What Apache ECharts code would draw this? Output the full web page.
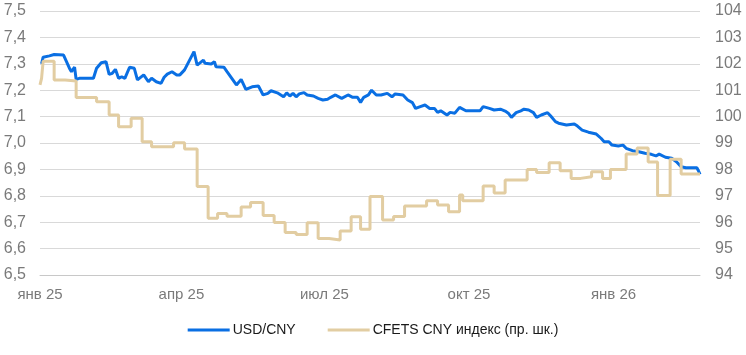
<!DOCTYPE html>
<html>
<head>
<meta charset="utf-8">
<script src="https://cdn.jsdelivr.net/npm/echarts@6/dist/echarts.min.js"></script>
<style>
html,body{margin:0;padding:0;background:#fff;}
#c{width:746px;height:355px;}
</style>
</head>
<body>
<div id="c"></div>
<script>
// X-axis tick labels (quarter starts)
const xTickDates = ['2025-01-01','2025-04-01','2025-07-01','2025-10-01','2026-01-01'];
const xTickLabels = ['янв 25','апр 25','июл 25','окт 25','янв 26'];

// USD/CNY (left axis)
const usdDates = ['2025-01-02','2025-01-03','2025-01-07','2025-01-10','2025-01-16','2025-01-17','2025-01-20','2025-01-21','2025-01-23','2025-01-24','2025-01-26','2025-02-04','2025-02-06','2025-02-09','2025-02-12','2025-02-14','2025-02-16','2025-02-18','2025-02-20','2025-02-22','2025-02-24','2025-02-27','2025-03-02','2025-03-04','2025-03-08','2025-03-11','2025-03-13','2025-03-16','2025-03-19','2025-03-21','2025-03-23','2025-03-26','2025-03-29','2025-03-31','2025-04-03','2025-04-09','2025-04-11','2025-04-15','2025-04-16','2025-04-20','2025-04-22','2025-04-23','2025-04-28','2025-04-30','2025-05-06','2025-05-09','2025-05-12','2025-05-16','2025-05-20','2025-05-23','2025-05-26','2025-05-28','2025-06-01','2025-06-05','2025-06-07','2025-06-09','2025-06-11','2025-06-13','2025-06-15','2025-06-18','2025-06-20','2025-06-24','2025-06-27','2025-06-30','2025-07-03','2025-07-05','2025-07-08','2025-07-12','2025-07-16','2025-07-19','2025-07-22','2025-07-24','2025-07-26','2025-07-29','2025-07-31','2025-08-03','2025-08-06','2025-08-10','2025-08-13','2025-08-15','2025-08-20','2025-08-23','2025-08-26','2025-08-28','2025-08-31','2025-09-03','2025-09-06','2025-09-09','2025-09-11','2025-09-13','2025-09-17','2025-09-19','2025-09-22','2025-09-25','2025-09-29','2025-10-08','2025-10-10','2025-10-14','2025-10-17','2025-10-21','2025-10-24','2025-10-26','2025-10-28','2025-10-31','2025-11-03','2025-11-05','2025-11-08','2025-11-11','2025-11-13','2025-11-16','2025-11-20','2025-11-22','2025-11-25','2025-11-27','2025-12-02','2025-12-03','2025-12-07','2025-12-09','2025-12-12','2025-12-16','2025-12-21','2025-12-24','2025-12-26','2025-12-29','2025-12-31','2026-01-04','2026-01-07','2026-01-09','2026-01-13','2026-01-17','2026-01-21','2026-01-25','2026-01-28','2026-01-30','2026-02-03','2026-02-07','2026-02-10','2026-02-13','2026-02-16','2026-02-23','2026-02-24','2026-02-25'];
const usdValues = [7.300,7.325,7.330,7.335,7.333,7.327,7.280,7.270,7.287,7.241,7.245,7.245,7.283,7.304,7.308,7.260,7.264,7.279,7.245,7.251,7.245,7.287,7.283,7.239,7.258,7.232,7.245,7.232,7.226,7.249,7.261,7.270,7.258,7.258,7.277,7.346,7.295,7.314,7.302,7.299,7.308,7.289,7.287,7.270,7.220,7.241,7.203,7.213,7.216,7.182,7.188,7.198,7.190,7.175,7.190,7.178,7.188,7.175,7.186,7.191,7.182,7.178,7.169,7.163,7.166,7.173,7.182,7.169,7.182,7.173,7.173,7.154,7.173,7.182,7.200,7.182,7.182,7.188,7.175,7.186,7.182,7.163,7.153,7.131,7.138,7.144,7.131,7.131,7.116,7.122,7.106,7.116,7.113,7.135,7.122,7.122,7.138,7.131,7.125,7.128,7.121,7.113,7.097,7.115,7.122,7.128,7.125,7.115,7.097,7.106,7.115,7.102,7.081,7.075,7.068,7.062,7.072,7.064,7.049,7.041,7.034,7.018,7.005,7.005,6.992,6.989,6.992,6.980,6.971,6.967,6.961,6.957,6.951,6.958,6.946,6.942,6.929,6.910,6.906,6.906,6.895,6.881];

// CFETS CNY index (right axis), weekly fixings
const cfetsDates = ['2025-01-01','2025-01-02','2025-01-03','2025-01-10','2025-01-17','2025-01-24','2025-02-06','2025-02-14','2025-02-20','2025-02-28','2025-03-07','2025-03-13','2025-03-27','2025-04-03','2025-04-11','2025-04-18','2025-04-24','2025-04-30','2025-05-09','2025-05-15','2025-05-23','2025-05-30','2025-06-06','2025-06-13','2025-06-20','2025-06-27','2025-07-04','2025-07-11','2025-07-18','2025-07-24','2025-07-30','2025-08-07','2025-08-14','2025-08-21','2025-09-04','2025-09-11','2025-09-18','2025-09-25','2025-09-27','2025-10-10','2025-10-17','2025-10-24','2025-11-07','2025-11-13','2025-11-21','2025-11-28','2025-12-05','2025-12-11','2025-12-18','2025-12-25','2025-12-30','2026-01-09','2026-01-16','2026-01-23','2026-01-29','2026-02-06','2026-02-13','2026-02-25'];
const cfetsValues = [101.2,101.45,102.1,101.39,101.35,100.72,100.56,100.06,99.62,99.94,99.05,98.86,99.01,98.77,97.35,96.15,96.33,96.23,96.58,96.75,96.25,95.99,95.61,95.53,95.98,95.38,95.33,95.67,96.21,95.73,96.97,96.08,96.22,96.61,96.81,96.65,96.40,97.03,96.81,97.37,97.11,97.60,98.00,97.88,98.25,97.95,97.66,97.72,97.91,97.66,98.00,98.58,98.81,98.28,97.01,98.38,97.83,97.83];

const seriesNames = ['USD/CNY','CFETS CNY индекс (пр. шк.)'];

function toTs(s){ const p = s.split('-').map(Number); return Date.UTC(p[0], p[1]-1, p[2]); }
const tickTs = xTickDates.map(toTs);
const FONT = '"Liberation Sans", Arial, sans-serif';
const labelColor = '#7a7a7a';

const chart = echarts.init(document.getElementById('c'), null, {renderer:'canvas'});
chart.setOption({
  animation: false,
  backgroundColor: '#ffffff',
  textStyle: {fontFamily: FONT},
  grid: {left: 40, right: 46, top: 11, bottom: 80, containLabel: false},
  legend: {
    data: seriesNames,
    top: 318,
    left: 'center',
    icon: 'rect',
    itemWidth: 42,
    itemHeight: 3,
    itemGap: 32,
    textStyle: {fontFamily: FONT, fontSize: 14, color: '#1a1a1a', padding: [0, 0, 0, -2]}
  },
  xAxis: {
    type: 'value',
    min: toTs('2025-01-01'),
    max: toTs('2026-02-25'),
    axisLine: {show: true, lineStyle: {color: '#c8c8c8', width: 1}},
    axisTick: {show: false},
    splitLine: {show: false},
    axisLabel: {
      customValues: tickTs,
      margin: 12,
      fontFamily: FONT,
      fontSize: 15,
      color: labelColor,
      hideOverlap: false,
      formatter: function (v) {
        const i = tickTs.indexOf(v);
        return i >= 0 ? xTickLabels[i] : '';
      }
    }
  },
  yAxis: [
    {
      type: 'value', min: 6.5, max: 7.5, interval: 0.1,
      axisLine: {show: false}, axisTick: {show: false},
      splitLine: {show: true, lineStyle: {color: '#d9d9d9', width: 1}},
      axisLabel: {
        margin: 14, fontFamily: FONT, fontSize: 16, color: labelColor,
        formatter: function (v) { return v.toFixed(1).replace('.', ','); }
      }
    },
    {
      type: 'value', min: 94, max: 104, interval: 1,
      axisLine: {show: false}, axisTick: {show: false},
      splitLine: {show: false},
      axisLabel: {margin: 15, fontFamily: FONT, fontSize: 16, color: labelColor}
    }
  ],
  series: [
    {
      name: seriesNames[0], type: 'line', yAxisIndex: 0,
      data: usdDates.map((d, i) => [toTs(d), usdValues[i]]),
      showSymbol: false, symbol: 'none',
      lineStyle: {color: '#0A6FE3', width: 3},
      itemStyle: {color: '#0A6FE3'}
    },
    {
      name: seriesNames[1], type: 'line', yAxisIndex: 1, step: 'end',
      data: cfetsDates.map((d, i) => [toTs(d), cfetsValues[i]]),
      showSymbol: false, symbol: 'none',
      lineStyle: {color: '#E2CDA2', width: 3},
      itemStyle: {color: '#E2CDA2'}
    }
  ]
});
</script>
</body>
</html>
